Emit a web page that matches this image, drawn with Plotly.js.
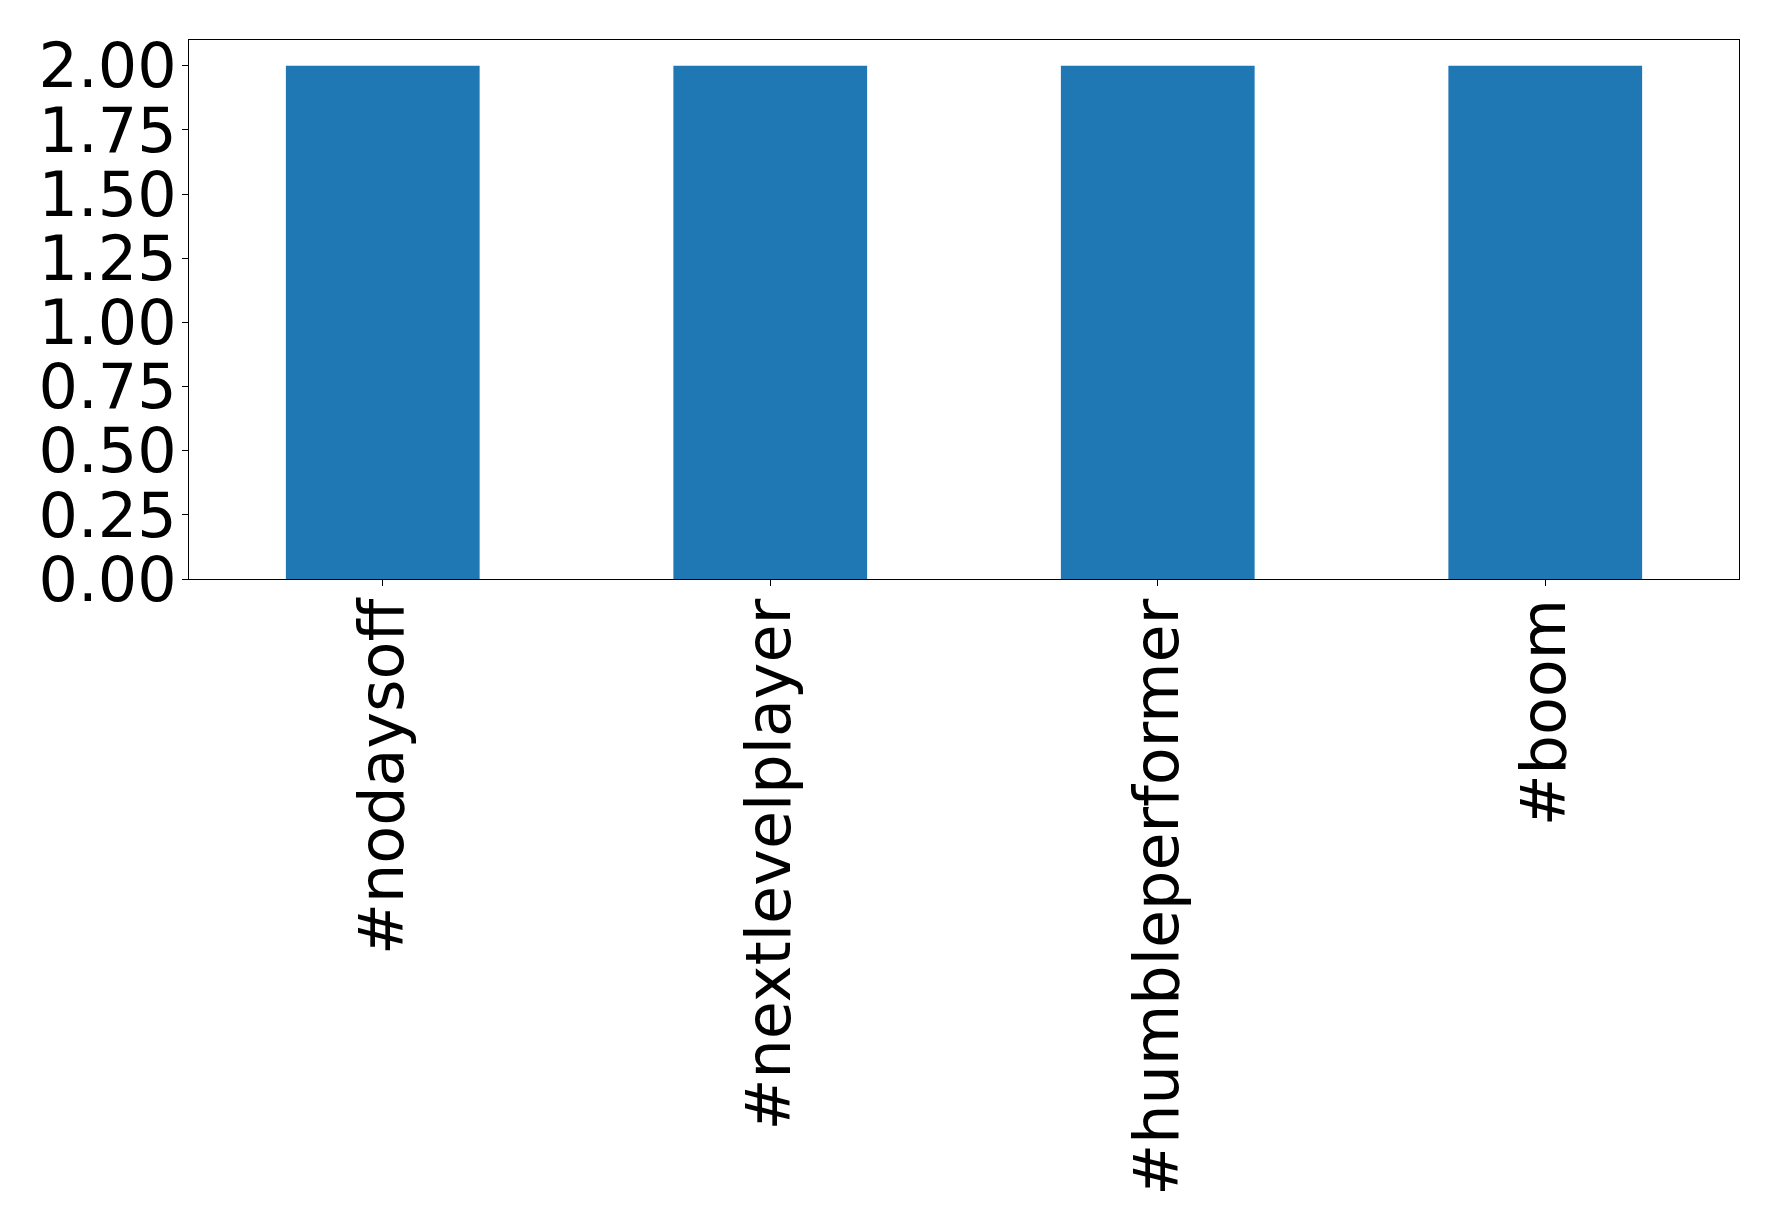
<!DOCTYPE html>
<html>
<head>
<meta charset="utf-8">
<script src="https://cdn.plot.ly/plotly-3.0.1.min.js"></script>
<style>html,body{margin:0;padding:0;background:#fff;}</style>
</head>
<body>
<div id="chart" style="width:1778px;height:1230px;"></div>
<script>
const categories = ["#nodaysoff", "#nextlevelplayer", "#humbleperformer", "#boom"];
const counts = [2, 2, 2, 2];
const yTickVals = [0, 0.25, 0.5, 0.75, 1.0, 1.25, 1.5, 1.75, 2.0];
const yTickText = ["0.00", "0.25", "0.50", "0.75", "1.00", "1.25", "1.50", "1.75", "2.00"];

const font = {family: "DejaVu Sans", size: 62, color: "#000"};

Plotly.newPlot("chart", [{
  type: "bar",
  x: categories,
  y: counts,
  width: 0.5,
  marker: {color: "#1f77b4", line: {width: 0}},
  hoverinfo: "skip"
}], {
  width: 1778,
  height: 1230,
  margin: {l: 189, r: 39, t: 40, b: 651, pad: 0},
  paper_bgcolor: "#fff",
  plot_bgcolor: "#fff",
  showlegend: false,
  font: font,
  xaxis: {
    type: "category",
    range: [-0.5, 3.5],
    tickangle: -90,
    ticks: "outside",
    ticklen: 6,
    tickwidth: 1,
    tickcolor: "#000",
    showline: true,
    linecolor: "#000",
    linewidth: 1,
    mirror: true,
    showgrid: false,
    zeroline: false,
    tickfont: font,
    ticklabelstandoff: -12
  },
  yaxis: {
    range: [0, 2.1],
    tickvals: yTickVals,
    ticktext: yTickText,
    ticks: "outside",
    ticklen: 6,
    tickwidth: 1,
    tickcolor: "#000",
    showline: true,
    linecolor: "#000",
    linewidth: 1,
    mirror: true,
    showgrid: false,
    zeroline: false,
    tickfont: font,
    ticklabelstandoff: -7
  }
}, {displayModeBar: false, staticPlot: true});
</script>
</body>
</html>
